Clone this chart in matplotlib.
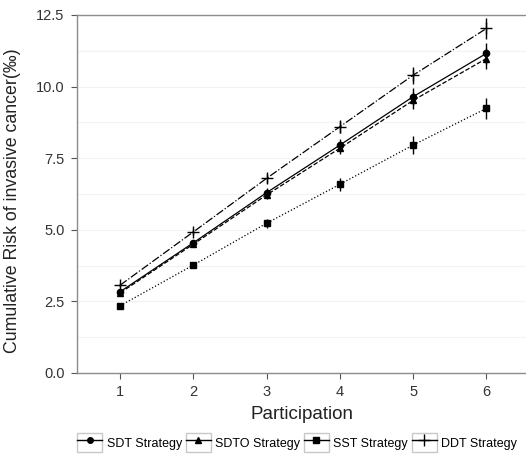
import numpy as np
import matplotlib.pyplot as plt
from matplotlib.lines import Line2D
from matplotlib.patches import Rectangle
from matplotlib.legend_handler import HandlerLine2D

plt.rcParams['font.family'] = ['Liberation Sans', 'DejaVu Sans']

participation = [1, 2, 3, 4, 5, 6]
sdt = [2.84, 4.55, 6.30, 7.96, 9.65, 11.16]
sdto = [2.80, 4.50, 6.22, 7.85, 9.52, 10.98]
sst = [2.35, 3.77, 5.23, 6.59, 7.96, 9.24]
ddt = [3.07, 4.93, 6.80, 8.60, 10.40, 12.03]
err = [0.06, 0.10, 0.15, 0.22, 0.30, 0.36]

labels = ['SDT Strategy', 'SDTO Strategy', 'SST Strategy', 'DDT Strategy']


class BoxedHandler(HandlerLine2D):
    # legend key with a thin grey box round it
    def create_artists(self, legend, orig_handle, xdescent, ydescent,
                       width, height, fontsize, trans):
        arts = super().create_artists(legend, orig_handle, xdescent, ydescent,
                                      width, height, fontsize, trans)
        box = Rectangle((-xdescent, -ydescent), width, height, fill=False,
                        ec='#c8c8c8', lw=1.0, transform=trans)
        return [box] + list(arts)


fig = plt.figure(figsize=(5.26, 4.54), dpi=100)
ax = fig.add_axes([77/526, 81/454, 449/526, 358/454])

series = [(sdt, '-', 'o', 4.5), (sdto, '--', '^', 5), (sst, ':', 's', 4.5), (ddt, '-.', '+', 9)]
for vals, ls, mk, ms in series:
    ax.errorbar(participation, vals, yerr=err, color='black', ls=ls, lw=0.9,
                marker=mk, ms=ms, mew=1.0, elinewidth=1.0, capsize=0)

ax.set_xlim(0.41, 6.54)
ax.set_ylim(0, 12.5)
ax.set_xticks(participation)
ax.set_yticks([0, 2.5, 5, 7.5, 10, 12.5])
ax.set_yticklabels(['0.0', '2.5', '5.0', '7.5', '10.0', '12.5'])
ax.set_yticks(np.arange(1.25, 12.5, 2.5), minor=True)
ax.tick_params(axis='y', which='minor', length=0)
ax.grid(axis='y', which='both', color='#f2f2f2', lw=0.8)
ax.set_axisbelow(True)

for s in ['left', 'bottom', 'top']:
    ax.spines[s].set_color('#8c8c8c')
    ax.spines[s].set_linewidth(1.0)
ax.spines['right'].set_visible(False)
ax.tick_params(which='major', colors='#333333', labelsize=10.5, length=4,
               color='#555555', pad=5)

ax.set_xlabel('Participation', fontsize=13.5, color='#222222', labelpad=5)
ax.set_ylabel('Cumulative Risk of invasive cancer(‰)', fontsize=12.8,
              color='#222222')
ax.yaxis.set_label_coords(-0.125, 0.48)

handles = [Line2D([], [], color='black', lw=1, marker=m, ms=s)
           for m, s in [('o', 4), ('^', 4.5), ('s', 4), ('+', 8)]]
leg = fig.legend(handles, labels, loc='center', bbox_to_anchor=(0.565, 0.025), ncol=4,
                 frameon=False, fontsize=9.0, handlelength=2.0, handleheight=2.0,
                 handletextpad=0.35, columnspacing=0.3, borderpad=0.2,
                 handler_map={Line2D: BoxedHandler()})

fig.savefig('out.png', dpi=100)
